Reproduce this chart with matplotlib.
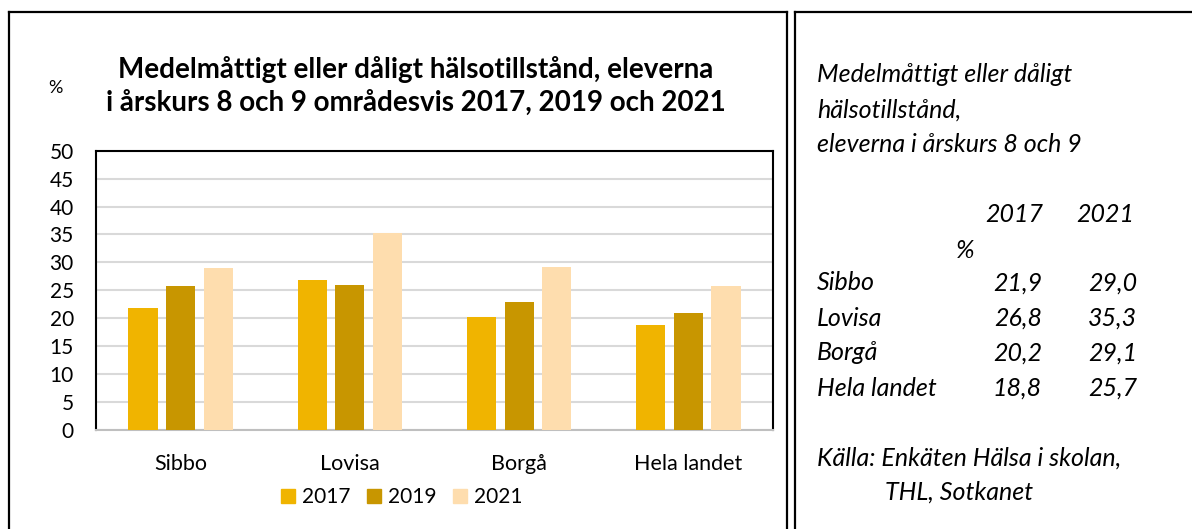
import matplotlib.pyplot as plt
import numpy as np
from matplotlib.patches import Patch

plt.rcParams['font.family'] = ['Lato', 'DejaVu Sans']

regions = ['Sibbo', 'Lovisa', 'Borgå', 'Hela landet']
years = ['2017', '2019', '2021']
values_2017 = [21.9, 26.8, 20.2, 18.8]
values_2019 = [25.8, 25.9, 23.0, 20.9]
values_2021 = [29.0, 35.3, 29.1, 25.7]
colors = ['#F0B400', '#C89600', '#FEDDAE']

title = 'Medelmåttigt eller dåligt hälsotillstånd, eleverna\ni årskurs 8 och 9 områdesvis 2017, 2019 och 2021'
side_title = ['Medelmåttigt eller dåligt', 'hälsotillstånd,', 'eleverna i årskurs 8 och 9']
source = ['Källa: Enkäten Hälsa i skolan,', 'THL, Sotkanet']

W, H = 1192, 529
fig = plt.figure(figsize=(W / 100, H / 100), dpi=100)


def fx(x):
    return x / W


def fy(y):
    return 1 - y / H


# panel borders
lw = 1.6
fig.add_artist(plt.Line2D([fx(9), fx(9)], [fy(12), 0], color='black', lw=lw))
fig.add_artist(plt.Line2D([fx(9), fx(787)], [fy(12), fy(12)], color='black', lw=lw))
fig.add_artist(plt.Line2D([fx(787), fx(787)], [fy(12), 0], color='black', lw=lw))
fig.add_artist(plt.Line2D([fx(795), fx(795)], [fy(12), 0], color='black', lw=lw))
fig.add_artist(plt.Line2D([fx(795), 1], [fy(12), fy(12)], color='black', lw=lw))

ax = fig.add_axes([fx(96), fy(430), fx(773) - fx(96), fy(150.7) - fy(430)])
x = np.arange(len(regions))
bw = 0.172
off = 0.222
for i, vals in enumerate([values_2017, values_2019, values_2021]):
    ax.bar(x + (i - 1) * off, vals, width=bw, color=colors[i], label=years[i], zorder=3)

ax.set_xlim(-0.5, len(regions) - 0.5)
ax.set_ylim(0, 50)
ax.set_yticks(range(0, 51, 5))
ax.set_xticks(x)
ax.set_xticklabels(regions)
ax.tick_params(axis='y', length=0, pad=16, labelsize=15)
ax.tick_params(axis='x', length=0, pad=17, labelsize=15.5)
ax.yaxis.grid(True, color='#D9D9D9', lw=1.5, zorder=0)
for s in ['left', 'top', 'right']:
    ax.spines[s].set_color('black')
    ax.spines[s].set_linewidth(1.5)
ax.spines['bottom'].set_color('#BFBFBF')
ax.spines['bottom'].set_linewidth(1.5)

handles = [Patch(color=c, label=y) for c, y in zip(colors, years)]
fig.legend(handles=handles, loc='center', bbox_to_anchor=(fx(402), fy(497)), ncol=3,
           frameon=False, fontsize=15, handlelength=0.65, handleheight=0.65,
           handletextpad=0.35, columnspacing=0.8)

fig.text(fx(416), fy(86), title, ha='center', va='center', fontsize=20,
         fontweight='bold', linespacing=1.3)
fig.text(fx(55), fy(88), '%', ha='center', va='center', fontsize=13)

# right text panel
fs = 18
for k, line in enumerate(side_title):
    fig.text(fx(817), fy(75 + 35 * k), line, ha='left', va='center', fontsize=fs, style='italic')
fig.text(fx(1043), fy(214), '2017', ha='right', va='center', fontsize=fs, style='italic')
fig.text(fx(1134), fy(214), '2021', ha='right', va='center', fontsize=fs, style='italic')
fig.text(fx(965), fy(250), '%', ha='center', va='center', fontsize=fs, style='italic')
for k, r in enumerate(regions):
    yy = fy(283 + 35 * k)
    fig.text(fx(817), yy, r, ha='left', va='center', fontsize=fs, style='italic')
    fig.text(fx(1042), yy, f'{values_2017[k]:.1f}'.replace('.', ','), ha='right',
             va='center', fontsize=fs, style='italic')
    fig.text(fx(1137), yy, f'{values_2021[k]:.1f}'.replace('.', ','), ha='right',
             va='center', fontsize=fs, style='italic')
fig.text(fx(817), fy(458), source[0], ha='left', va='center', fontsize=fs, style='italic')
fig.text(fx(885), fy(492), source[1], ha='left', va='center', fontsize=fs, style='italic')

fig.savefig('out.png', dpi=100)
